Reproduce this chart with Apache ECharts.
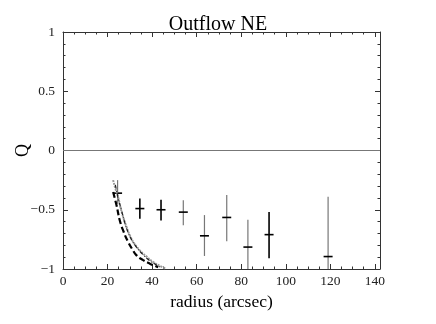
<!DOCTYPE html>
<html>
<head>
<meta charset="utf-8">
<script src="https://cdn.jsdelivr.net/npm/echarts@6/dist/echarts.min.js"></script>
<style>
html, body { margin: 0; padding: 0; background: #fff; }
#chart { width: 436px; height: 324px; }
</style>
</head>
<body>
<div id="chart"></div>
<script>
// measured points: radius, Q, lower, upper
var radius = [24.5, 34.5, 44, 54, 63.5, 73.5, 83, 92.5, 119];
var qVal   = [-0.36, -0.49, -0.50, -0.52, -0.72, -0.565, -0.815, -0.71, -0.895];
var qLow   = [-0.45, -0.575, -0.59, -0.63, -0.89, -0.765, -1.0, -0.91, -1.0];
var qHigh  = [-0.25, -0.405, -0.415, -0.42, -0.545, -0.375, -0.585, -0.52, -0.39];

// model curves
var dashCurve = [[22.5,-0.35],[24,-0.46],[25.5,-0.59],[27.3,-0.69],[29.2,-0.77],[31,-0.83],[33,-0.885],[36,-0.925],[39,-0.955],[42.7,-0.985]];
var dashDotCurve = [[23.5,-0.29],[24,-0.335],[25,-0.42],[26.2,-0.5],[27.6,-0.6],[29.2,-0.69],[31,-0.76],[33,-0.815],[36,-0.88],[39,-0.93],[42.7,-0.975],[44,-0.99]];
var grayCurve = [[22.5,-0.25],[23.5,-0.32],[24.7,-0.39],[25.8,-0.48],[27,-0.56],[28.5,-0.645],[30,-0.716],[32,-0.785],[34.5,-0.843],[37.5,-0.895],[40.4,-0.94],[44.2,-0.98],[46,-0.995]];

var xTicks = [0, 20, 40, 60, 80, 100, 120, 140];
var yTicks = [-1, -0.5, 0, 0.5, 1];

var darkBars = [1, 2, 7];   // indices drawn with black error bars

var errData = radius.map(function (r, i) { return [r, qVal[i], qLow[i], qHigh[i], i]; });

var serif = 'Liberation Serif';
var myChart = echarts.init(document.getElementById('chart'));

function fmt(v) {
	return String(v).replace('-', '\u2212');
}

function frameAxis(kind, pos, label) {
	var isX = kind == 'x';
	var ax = {
		type: 'value',
		min: isX ? 0 : -1,
		max: isX ? 142.3 : 1,
		interval: isX ? 20 : 0.5,
		position: pos,
		axisLine: { onZero: false, lineStyle: { color: '#333' } },
		axisTick: { inside: true, length: 5, lineStyle: { color: '#333' } },
		minorTick: { show: true, splitNumber: isX ? 4 : 5, length: 2.5, lineStyle: { color: '#333' } },
		axisLabel: { show: false },
		splitLine: { show: false }
	};
	if (label) {
		ax.axisLabel = {
			fontFamily: serif, fontSize: 13.5, color: '#222', margin: isX ? 5 : 8,
			formatter: function (v) {
				var list = isX ? xTicks : yTicks;
				return list.indexOf(v) >= 0 ? fmt(v) : '';
			}
		};
	}
	return ax;
}

var xMain = frameAxis('x', 'bottom', true);
xMain.name = 'radius (arcsec)';
xMain.nameLocation = 'middle';
xMain.nameGap = 24;
xMain.nameMoveOverlap = false;
xMain.nameTextStyle = { fontFamily: serif, fontSize: 17.5, color: '#000' };

var yMain = frameAxis('y', 'left', true);
yMain.name = 'Q';
yMain.nameLocation = 'middle';
yMain.nameGap = 31;
yMain.nameRotate = 90;
yMain.nameMoveOverlap = false;
yMain.nameTextStyle = { fontFamily: serif, fontSize: 18, color: '#000' };

var option = {
	animation: false,
	title: {
		text: 'Outflow NE',
		left: 'center',
		top: 10,
		textStyle: { fontFamily: serif, fontSize: 20, fontWeight: 'normal', color: '#000' }
	},
	grid: { left: 63, right: 56, top: 32, bottom: 55 },
	xAxis: [xMain, frameAxis('x', 'top', false)],
	yAxis: [yMain, frameAxis('y', 'right', false)],
	series: [{
		type: 'line',
		data: grayCurve,
		symbol: 'none',
		smooth: true,
		lineStyle: { color: '#999', width: 2, type: [2, 1] },
		markLine: {
			silent: true,
			symbol: 'none',
			label: { show: false },
			lineStyle: { color: '#777', width: 1, type: 'solid' },
			data: [{ yAxis: 0 }]
		}
	}, {
		type: 'line',
		data: dashDotCurve,
		symbol: 'none',
		smooth: true,
		lineStyle: { color: '#222', width: 1.2, type: [4, 2, 1, 2] }
	}, {
		type: 'line',
		data: dashCurve,
		symbol: 'none',
		smooth: true,
		lineStyle: { color: '#000', width: 2.2, type: [6, 3] }
	}, {
		type: 'custom',
		data: errData,
		renderItem: function (params, api) {
			var c = api.coord([api.value(0), api.value(1)]);
			var lo = api.coord([api.value(0), api.value(2)]);
			var hi = api.coord([api.value(0), api.value(3)]);
			var dark = darkBars.indexOf(api.value(4)) >= 0;
			return {
				type: 'group',
				children: [{
					type: 'line',
					shape: { x1: c[0], y1: hi[1], x2: c[0], y2: lo[1] },
					style: { stroke: dark ? '#000' : '#777', lineWidth: dark ? 1.6 : 1.2 }
				}, {
					type: 'line',
					shape: { x1: c[0] - 4.5, y1: c[1], x2: c[0] + 4.5, y2: c[1] },
					style: { stroke: '#000', lineWidth: 1.6 }
				}]
			};
		}
	}]
};
myChart.setOption(option);
</script>
</body>
</html>
